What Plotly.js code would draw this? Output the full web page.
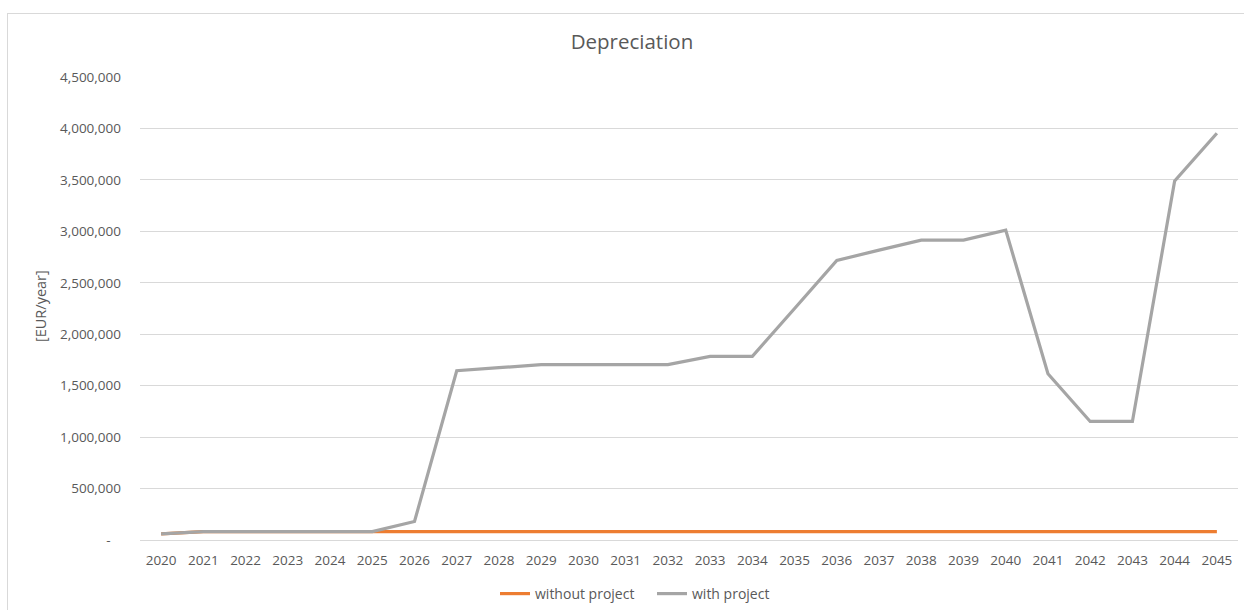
<!DOCTYPE html>
<html>
<head>
<meta charset="utf-8">
<script src="https://cdn.plot.ly/plotly-3.0.1.min.js"></script>
<style>
  html, body { margin: 0; padding: 0; background: #ffffff; overflow: hidden; }
  #chart { position: absolute; left: 0; top: 0; width: 1244px; height: 610px; }
  #frame { position: absolute; left: 7px; top: 13px; width: 1300px; height: 700px;
           border: 1px solid #d9d9d9; pointer-events: none; }
</style>
</head>
<body>
<div id="chart"></div>
<div id="frame"></div>
<script>
// Years on the category axis
const years = ["2020","2021","2022","2023","2024","2025","2026","2027","2028","2029",
               "2030","2031","2032","2033","2034","2035","2036","2037","2038","2039",
               "2040","2041","2042","2043","2044","2045"];

// Annual depreciation, EUR/year
const withoutProject = [60000, 81000, 81000, 81000, 81000, 81000, 81000, 81000, 81000, 81000,
                        81000, 81000, 81000, 81000, 81000, 81000, 81000, 81000, 81000, 81000,
                        81000, 81000, 81000, 81000, 81000, 81000];
const withProject = [60000, 81000, 81000, 81000, 81000, 81000, 180000, 1645000, 1675000, 1704000,
                     1704000, 1704000, 1704000, 1785000, 1785000, 2250000, 2717000, 2817000, 2914000, 2914000,
                     3012000, 1616000, 1152000, 1152000, 3489000, 3953000];

// Y axis ticks (accounting style, zero shown as a dash)
const yTickVals = [0, 500000, 1000000, 1500000, 2000000, 2500000, 3000000, 3500000, 4000000, 4500000];
const yTickText = ["-\u00a0\u00a0\u00a0", "500,000", "1,000,000", "1,500,000", "2,000,000",
                   "2,500,000", "3,000,000", "3,500,000", "4,000,000", "4,500,000"];

const FONT = '"Open Sans", "Noto Sans", sans-serif';
const TXT = '#595959';

const traces = [
  {
    x: years, y: withoutProject, name: 'without project', type: 'scatter', mode: 'lines',
    line: { color: '#ED7D31', width: 3.2 }
  },
  {
    x: years, y: withProject, name: 'with project', type: 'scatter', mode: 'lines',
    line: { color: '#A5A5A5', width: 3.2 }
  }
];

const layout = {
  width: 1244, height: 610,
  paper_bgcolor: 'rgba(0,0,0,0)', plot_bgcolor: '#ffffff',
  margin: { l: 140, r: 6, t: 77, b: 70, pad: 0 },
  font: { family: FONT, size: 13.5, color: TXT },
  title: {
    text: 'Depreciation',
    font: { family: FONT, size: 20.5, color: TXT },
    xref: 'container', x: 0.508, xanchor: 'center',
    yref: 'container', y: 1 - 42 / 610, yanchor: 'middle'
  },
  xaxis: {
    type: 'category', range: [-0.5, 25.5],
    showgrid: false, zeroline: false,
    showline: true, linecolor: '#d9d9d9', linewidth: 1,
    ticks: '', ticklabelstandoff: 8,
    tickfont: { family: FONT, size: 13.5, color: TXT },
    fixedrange: true
  },
  yaxis: {
    range: [0, 4500000],
    tickvals: yTickVals, ticktext: yTickText,
    showgrid: true, gridcolor: '#d9d9d9', gridwidth: 1,
    zeroline: false, showline: false,
    ticks: '', ticklabelstandoff: 18,
    tickfont: { family: FONT, size: 13.5, color: TXT },
    fixedrange: true
  },
  annotations: [{
    text: '[EUR/year]', textangle: -90, showarrow: false,
    xref: 'paper', x: (40 - 140) / 1098, xanchor: 'center',
    yref: 'paper', y: (540 - 306) / 463, yanchor: 'middle',
    font: { family: FONT, size: 14.5, color: TXT }
  }],
  showlegend: true,
  legend: {
    orientation: 'h',
    xref: 'container', x: 495 / 1244, xanchor: 'left',
    yref: 'container', y: 1 - 594 / 610, yanchor: 'middle',
    font: { family: FONT, size: 14, color: TXT },
    bgcolor: 'rgba(0,0,0,0)', itemwidth: 30, tracegroupgap: 0,
    entrywidth: 112, entrywidthmode: 'pixels'
  }
};

Plotly.newPlot('chart', traces, layout, { staticPlot: true, displayModeBar: false });
</script>
</body>
</html>
